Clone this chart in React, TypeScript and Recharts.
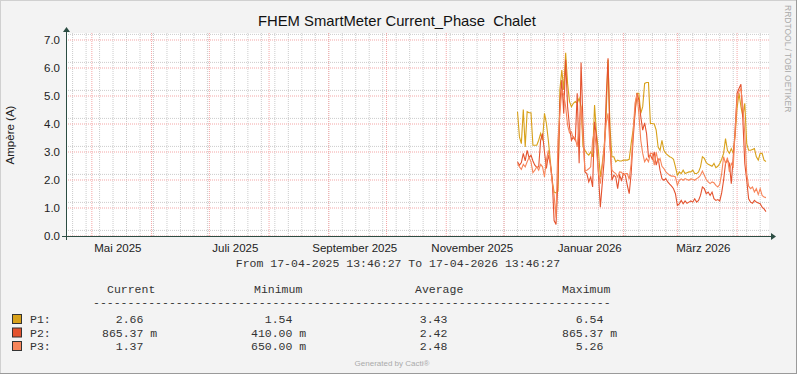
import { LineChart, Line, XAxis, YAxis, CartesianGrid } from 'recharts';

// one sample per day, 08-12-2025 .. 16-04-2026
const firstDay = Date.UTC(2025, 11, 8);
const DAY = 86400000;

const p1 = [
  4.44, 3.54, 3.3, 4.52, 3.18, 4.44, 4.4, 4.4, 3.24, 3.24,
  3.24, 3.42, 3.66, 3.42, 4.38, 4.02, 3.42, 2.71, 1.99, 1.57,
  1.54, 1.6, 5.22, 5.93, 5.22, 6.54, 5.45, 4.8, 4.62, 4.74,
  4.8, 4.74, 4.92, 4.62, 3.18, 3.06, 2.95, 2.89, 3.0, 2.83,
  4.68, 3.66, 3.06, 2.11, 2.59, 3.18, 4.3, 6.29, 3.9, 2.83,
  2.83, 2.65, 2.71, 2.68, 2.68, 2.71, 2.71, 2.71, 2.74, 3.3,
  3.78, 4.44, 5.1, 5.1, 4.38, 4.62, 5.45, 5.48, 5.48, 4.02,
  4.02, 4.0, 3.78, 3.18, 3.06, 3.42, 3.06, 2.95, 2.89, 2.83,
  2.8, 2.74, 2.47, 2.17, 2.29, 2.23, 2.35, 2.23, 2.26, 2.29,
  2.29, 2.35, 2.23, 2.23, 2.29, 2.47, 2.83, 2.77, 2.62, 2.56,
  2.53, 2.49, 2.59, 2.44, 2.49, 2.59, 2.74, 2.95, 3.48, 3.06,
  2.95, 3.12, 2.95, 3.6, 4.56, 5.1, 4.62, 4.26, 4.74, 3.3,
  3.06, 3.06, 3.09, 3.12, 2.83, 2.71, 2.95, 2.95, 2.71, 2.66,
];

const p2 = [
  2.65, 2.53, 2.62, 2.95, 2.68, 3.06, 2.8, 2.89, 2.68, 2.53,
  2.45, 2.47, 3.42, 3.66, 3.0, 2.41, 2.89, 2.59, 2.05, 0.55,
  0.41, 1.99, 4.74, 5.57, 4.38, 6.29, 4.62, 3.9, 3.42, 3.54,
  3.42, 5.1, 2.6, 6.2, 4.0, 2.29, 2.23, 1.93, 2.11, 1.75,
  4.08, 3.54, 2.23, 1.03, 1.87, 2.71, 4.86, 6.35, 3.42, 1.99,
  2.17, 2.11, 1.69, 2.17, 1.99, 2.23, 2.17, 1.81, 1.51, 2.23,
  3.42, 4.38, 5.1, 4.86, 4.26, 3.78, 4.04, 3.66, 2.83, 2.89,
  2.74, 3.0, 2.53, 2.77, 2.35, 2.05, 1.99, 2.05, 1.93, 1.85,
  1.78, 1.69, 1.51, 1.09, 1.15, 1.27, 1.15, 1.25, 1.17, 1.21,
  1.25, 1.21, 1.33, 1.21, 1.27, 1.45, 1.75, 1.69, 1.51, 1.57,
  1.45, 1.57, 1.33, 1.27, 1.3, 1.25, 1.54, 1.99, 2.59, 2.71,
  2.59, 1.87, 2.83, 3.78, 5.1, 5.27, 5.42, 4.14, 2.59, 1.99,
  1.33, 1.21, 1.17, 1.27, 1.21, 1.18, 1.15, 1.03, 0.97, 0.87,
];

const p3 = [
  2.59, 2.47, 2.38, 2.56, 2.47, 2.65, 2.8, 2.65, 2.26, 2.35,
  2.47, 2.35, 2.56, 2.47, 2.11, 2.71, 3.06, 2.59, 1.93, 1.45,
  0.65, 3.42, 4.38, 5.22, 5.04, 4.62, 3.96, 3.68, 3.72, 3.48,
  3.51, 3.18, 4.02, 4.62, 3.54, 2.32, 2.35, 2.4, 2.47, 3.42,
  3.78, 3.06, 2.29, 1.87, 2.47, 3.18, 4.02, 4.38, 3.18, 2.35,
  2.28, 2.23, 2.11, 2.29, 2.28, 2.17, 2.23, 2.23, 2.02, 2.59,
  3.66, 4.74, 5.07, 4.38, 3.42, 2.95, 2.65, 2.77, 2.65, 2.95,
  2.95, 2.53, 3.0, 2.65, 2.77, 2.49, 2.41, 2.29, 2.23, 2.17,
  2.14, 2.14, 2.11, 1.81, 1.99, 2.04, 1.99, 2.05, 2.02, 1.99,
  2.04, 2.03, 1.99, 2.05, 2.09, 2.17, 2.32, 2.17, 2.02, 1.93,
  1.87, 1.93, 1.9, 1.81, 1.75, 1.85, 2.23, 2.83, 2.59, 2.8,
  2.29, 2.59, 2.47, 3.78, 4.92, 5.16, 5.26, 4.62, 3.66, 2.23,
  1.78, 1.69, 1.75, 1.57, 1.69, 1.48, 1.69, 1.45, 1.39, 1.37,
];

const monthLabels = ['Mai 2025', 'Juli 2025', 'September 2025', 'November 2025', 'Januar 2026', 'März 2026'];
const labelMonths = [4, 6, 8, 10, 12, 14]; // months counted from Jan 2025
const yTicks = [0, 1, 2, 3, 4, 5, 6, 7];

const legendRows = [
  { name: 'P1:', color: '#D8A11A', current: '  2.66  ', min: '  1.54  ', avg: '  3.43  ', max: '  6.54  ' },
  { name: 'P2:', color: '#E4532F', current: '865.37 m', min: '410.00 m', avg: '  2.42  ', max: '865.37 m' },
  { name: 'P3:', color: '#F7855A', current: '  1.37  ', min: '650.00 m', avg: '  2.48  ', max: '  5.26  ' },
];

const START = Date.UTC(2025, 3, 17, 13, 46, 27);
const END = Date.UTC(2026, 3, 17, 13, 46, 27);

const rows = p1.map((v, i) => ({ t: firstDay + i * DAY, p1: v, p2: p2[i], p3: p3[i] }));

const monthStarts: number[] = [];
for (let m = 4; m <= 15; m++) monthStarts.push(Date.UTC(2025, m, 1));
const weeks: number[] = [];
for (let t = Date.UTC(2025, 3, 21); t < END; t += 7 * DAY) weeks.push(t);
const labelTicks = labelMonths.map((m) => Date.UTC(2025, m, 14, 12));
const minorY: number[] = [];
for (let i = 1; i <= 36; i++) if (i % 5 !== 0) minorY.push(i / 5);

const sans = '"Liberation Sans", Arial, sans-serif';
const mono = '"Liberation Mono", "DejaVu Sans Mono", monospace';
const axisColor = '#2C4D43';
const pre = (s: string) => s.replace(/ /g, '\u00A0');

export default function App() {
  return (
    <div style={{ position: 'relative', width: 797, height: 374, background: '#F3F3F3' }}>
      <style>{'body{margin:0}'}</style>
      <LineChart
        width={797}
        height={374}
        data={rows}
        margin={{ top: 33, right: 28, bottom: 108, left: 26 }}
      >
        <CartesianGrid
          horizontalValues={minorY}
          verticalValues={weeks}
          stroke="#CCCCCC"
          strokeDasharray="1 1"
          fill="#FFFFFF"
          fillOpacity={1}
        />
        <CartesianGrid
          horizontalValues={yTicks}
          verticalValues={monthStarts}
          stroke="#F4A6A6"
          strokeDasharray="1 1"
        />
        <XAxis
          type="number"
          dataKey="t"
          domain={[START, END]}
          scale="linear"
          ticks={labelTicks}
          tickFormatter={(v) => monthLabels[labelTicks.indexOf(v)]}
          height={30}
          axisLine={false}
          tickLine={false}
          tickSize={0}
          tickMargin={8}
          tick={{ fontSize: 11.5, fill: '#222', fontFamily: sans }}
          allowDataOverflow
        />
        <YAxis
          type="number"
          domain={[0, 7.25]}
          ticks={yTicks}
          width={40}
          tickFormatter={(v) => v.toFixed(1)}
          axisLine={false}
          tickLine={false}
          tickSize={0}
          tickMargin={6}
          tick={{ fontSize: 11.5, fill: '#222', fontFamily: sans }}
          allowDataOverflow
        />
        <Line type="linear" dataKey="p1" stroke="#D8A11A" strokeWidth={1.1} dot={false} isAnimationActive={false} />
        <Line type="linear" dataKey="p2" stroke="#E4532F" strokeWidth={1.1} dot={false} isAnimationActive={false} />
        <Line type="linear" dataKey="p3" stroke="#F7855A" strokeWidth={1.1} dot={false} isAnimationActive={false} />
      </LineChart>

      <svg
        width={797}
        height={374}
        style={{ position: 'absolute', left: 0, top: 0, pointerEvents: 'none' }}
      >
        {/* frame */}
        <line x1={0.5} y1={0} x2={0.5} y2={374} stroke="#D0D0D0" />
        <line x1={0} y1={0.5} x2={797} y2={0.5} stroke="#D0D0D0" />
        <line x1={796.5} y1={0} x2={796.5} y2={374} stroke="#9A9A9A" />
        <line x1={0} y1={373.5} x2={797} y2={373.5} stroke="#9A9A9A" />

        {/* axes with arrows */}
        <line x1={62} y1={236.5} x2={772} y2={236.5} stroke={axisColor} />
        <polygon points="771,233 776,236.5 771,240" fill={axisColor} />
        <line x1={66.5} y1={240} x2={66.5} y2={31} stroke={axisColor} />
        <polygon points="63,32 66.5,27 70,32" fill={axisColor} />

        <text x={397} y={26} textAnchor="middle" fontFamily={sans} fontSize={14.8} fill="#111">
          {pre('FHEM SmartMeter Current_Phase  Chalet')}
        </text>
        <text
          transform="translate(14,135) rotate(-90)"
          textAnchor="middle"
          fontFamily={sans}
          fontSize={11.5}
          fill="#222"
        >
          Ampère (A)
        </text>
        <text
          transform="translate(785,5) rotate(90)"
          fontFamily={sans}
          fontSize={8.5}
          fill="#AAAAAA"
        >
          RRDTOOL / TOBI OETIKER
        </text>

        <text x={398} y={267} textAnchor="middle" fontFamily={mono} fontSize={11.5} fill="#333">
          {pre('From 17-04-2025 13:46:27 To 17-04-2026 13:46:27')}
        </text>

        <g fontFamily={mono} fontSize={11.5} fill="#333">
          <text x={107} y={293}>Current</text>
          <text x={254} y={293}>Minimum</text>
          <text x={415} y={293}>Average</text>
          <text x={562} y={293}>Maximum</text>
          <text x={93} y={306}>{'-'.repeat(75)}</text>
          {legendRows.map((r, i) => (
            <g key={r.name}>
              <rect x={12.5} y={314.5 + i * 13.5} width={9} height={9} fill={r.color} stroke="#333" />
              <text x={30} y={323 + i * 13.5}>{r.name}</text>
              <text x={102} y={323 + i * 13.5}>{pre(r.current)}</text>
              <text x={251} y={323 + i * 13.5}>{pre(r.min)}</text>
              <text x={406} y={323 + i * 13.5}>{pre(r.avg)}</text>
              <text x={562} y={323 + i * 13.5}>{pre(r.max)}</text>
            </g>
          ))}
        </g>
        <text x={392} y={366} textAnchor="middle" fontFamily={sans} fontSize={8} fill="#AAAAAA">
          Generated by Cacti®
        </text>
      </svg>
    </div>
  );
}
